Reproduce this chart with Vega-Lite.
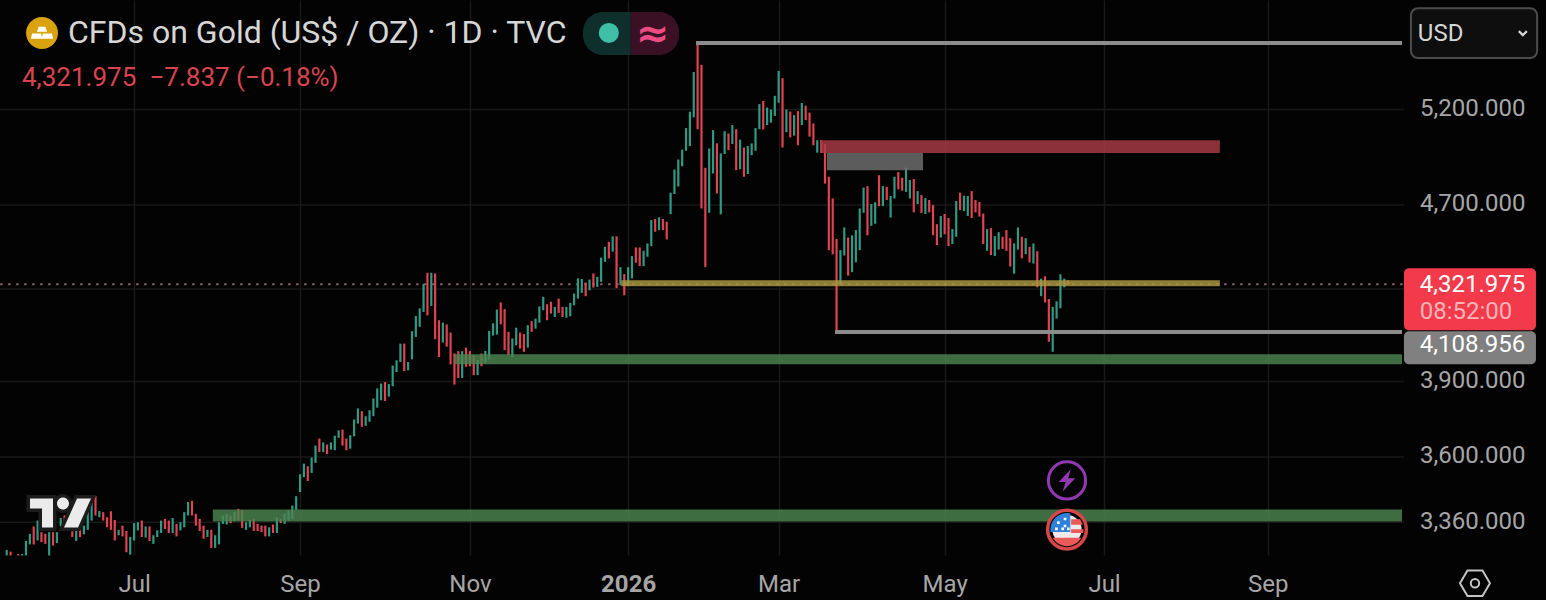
{
  "$schema": "https://vega.github.io/schema/vega-lite/v6.json",
  "width": 1546,
  "height": 555,
  "autosize": "none",
  "padding": {"left": 0, "top": 0, "right": 0, "bottom": 45},
  "background": "#030303",
  "title": {"text": "CFDs on Gold (US$ / OZ) · 1D · TVC", "anchor": "start", "frame": "group", "dx": 68, "dy": 54, "fontSize": 32, "fontWeight": "normal", "font": "Roboto", "color": "#d6d6d6"},
  "config": {"view": {"stroke": null}, "font": "Roboto", "text": {"font": "Roboto"}},
  "datasets": {
    "candles": [
      {"i":0,"open":3244,"close":3263},{"i":1,"open":3257,"close":3244},{"i":3,"open":3249,"close":3244},{"i":4,"open":3244,"close":3249},{"i":5,"open":3244,"close":3294},{"i":6,"open":3282,"close":3319},{"i":7,"open":3345,"close":3282},{"i":8,"open":3296,"close":3366},{"i":9,"open":3325,"close":3290},{"i":10,"open":3319,"close":3284},
      {"i":11,"open":3244,"close":3325},{"i":12,"open":3325,"close":3278},{"i":13,"open":3287,"close":3325},{"i":14,"open":3345,"close":3375},{"i":15,"open":3385,"close":3350},{"i":16,"open":3350,"close":3380},{"i":17,"open":3328,"close":3308},{"i":18,"open":3294,"close":3331},{"i":19,"open":3342,"close":3308},{"i":20,"open":3317,"close":3348},
      {"i":21,"open":3333,"close":3396},{"i":22,"open":3366,"close":3433},{"i":23,"open":3454,"close":3384},{"i":24,"open":3378,"close":3400},{"i":25,"open":3396,"close":3366},{"i":26,"open":3378,"close":3342},{"i":27,"open":3399,"close":3333},{"i":28,"open":3368,"close":3296},{"i":29,"open":3314,"close":3333},{"i":30,"open":3348,"close":3310},
      {"i":31,"open":3329,"close":3255},{"i":32,"open":3247,"close":3308},{"i":33,"open":3296,"close":3357},{"i":34,"open":3331,"close":3360},{"i":35,"open":3366,"close":3308},{"i":36,"open":3306,"close":3345},{"i":37,"open":3345,"close":3294},{"i":38,"open":3284,"close":3314},{"i":39,"open":3308,"close":3331},{"i":40,"open":3322,"close":3366},
      {"i":41,"open":3372,"close":3336},{"i":42,"open":3366,"close":3322},{"i":43,"open":3322,"close":3375},{"i":44,"open":3354,"close":3310},{"i":45,"open":3331,"close":3360},{"i":46,"open":3342,"close":3396},{"i":47,"open":3384,"close":3433},{"i":48,"open":3437,"close":3384},{"i":49,"open":3390,"close":3348},{"i":50,"open":3372,"close":3329},
      {"i":51,"open":3348,"close":3302},{"i":52,"open":3308,"close":3333},{"i":53,"open":3333,"close":3270},{"i":54,"open":3270,"close":3314},{"i":55,"open":3282,"close":3360},{"i":56,"open":3354,"close":3384},{"i":57,"open":3352,"close":3390},{"i":58,"open":3384,"close":3357},{"i":59,"open":3364,"close":3396},{"i":60,"open":3408,"close":3366},
      {"i":61,"open":3404,"close":3340},{"i":62,"open":3333,"close":3360},{"i":63,"open":3342,"close":3368},{"i":64,"open":3372,"close":3329},{"i":65,"open":3354,"close":3329},{"i":66,"open":3348,"close":3325},{"i":67,"open":3348,"close":3310},{"i":68,"open":3310,"close":3342},{"i":69,"open":3352,"close":3322},{"i":70,"open":3322,"close":3378},
      {"i":71,"open":3372,"close":3357},{"i":72,"open":3354,"close":3390},{"i":73,"open":3366,"close":3402},{"i":74,"open":3372,"close":3420},{"i":75,"open":3404,"close":3454},{"i":76,"open":3469,"close":3535},{"i":77,"open":3524,"close":3575},{"i":78,"open":3565,"close":3510},{"i":79,"open":3540,"close":3598},{"i":80,"open":3578,"close":3644},
      {"i":81,"open":3671,"close":3619},{"i":82,"open":3619,"close":3656},{"i":83,"open":3648,"close":3611},{"i":84,"open":3628,"close":3656},{"i":85,"open":3626,"close":3682},{"i":86,"open":3674,"close":3703},{"i":87,"open":3706,"close":3644},{"i":88,"open":3671,"close":3626},{"i":89,"open":3632,"close":3684},{"i":90,"open":3680,"close":3746},
      {"i":91,"open":3730,"close":3790},{"i":92,"open":3779,"close":3717},{"i":93,"open":3721,"close":3759},{"i":94,"open":3737,"close":3783},{"i":95,"open":3759,"close":3830},{"i":96,"open":3793,"close":3871},{"i":97,"open":3823,"close":3891},{"i":98,"open":3897,"close":3820},{"i":99,"open":3838,"close":3889},{"i":100,"open":3880,"close":3966},
      {"i":101,"open":3939,"close":3988},{"i":102,"open":3981,"close":4059},{"i":103,"open":4059,"close":3943},{"i":104,"open":3946,"close":3981},{"i":105,"open":3992,"close":4113},{"i":106,"open":4088,"close":4179},{"i":107,"open":4132,"close":4213},{"i":108,"open":4197,"close":4325},{"i":109,"open":4375,"close":4182},{"i":110,"open":4224,"close":4375},
      {"i":111,"open":4372,"close":4078},{"i":112,"open":4161,"close":4002},{"i":113,"open":4064,"close":4150},{"i":114,"open":4142,"close":4046},{"i":115,"open":4107,"close":3971},{"i":116,"open":4017,"close":3887},{"i":117,"open":4027,"close":3914},{"i":118,"open":3914,"close":4027},{"i":119,"open":4042,"close":3961},{"i":120,"open":4027,"close":3963},
      {"i":121,"open":4010,"close":3926},{"i":122,"open":3926,"close":3988},{"i":123,"open":4017,"close":3963},{"i":124,"open":3974,"close":4028},{"i":125,"open":3992,"close":4114},{"i":126,"open":4094,"close":4147},{"i":127,"open":4098,"close":4208},{"i":128,"open":4240,"close":4143},{"i":129,"open":4210,"close":4031},{"i":130,"open":4110,"close":4010},
      {"i":131,"open":4002,"close":4081},{"i":132,"open":4052,"close":4128},{"i":133,"open":4107,"close":4038},{"i":134,"open":4100,"close":4024},{"i":135,"open":4042,"close":4139},{"i":136,"open":4157,"close":4110},{"i":137,"open":4124,"close":4168},{"i":138,"open":4150,"close":4222},{"i":139,"open":4205,"close":4265},{"i":140,"open":4232,"close":4161},
      {"i":141,"open":4243,"close":4190},{"i":142,"open":4175,"close":4220},{"i":143,"open":4257,"close":4193},{"i":144,"open":4220,"close":4175},{"i":145,"open":4172,"close":4220},{"i":146,"open":4178,"close":4238},{"i":147,"open":4227,"close":4280},{"i":148,"open":4257,"close":4349},{"i":149,"open":4283,"close":4346},{"i":150,"open":4330,"close":4268},
      {"i":151,"open":4295,"close":4344},{"i":152,"open":4372,"close":4307},{"i":153,"open":4310,"close":4356},{"i":154,"open":4333,"close":4446},{"i":155,"open":4426,"close":4497},{"i":156,"open":4521,"close":4442},{"i":157,"open":4474,"close":4547},{"i":158,"open":4547,"close":4304},{"i":159,"open":4318,"close":4401},{"i":160,"open":4369,"close":4272},
      {"i":161,"open":4314,"close":4401},{"i":162,"open":4349,"close":4453},{"i":163,"open":4494,"close":4422},{"i":164,"open":4494,"close":4406},{"i":165,"open":4406,"close":4478},{"i":166,"open":4450,"close":4513},{"i":167,"open":4500,"close":4626},{"i":168,"open":4631,"close":4569},{"i":169,"open":4577,"close":4639},{"i":170,"open":4631,"close":4577},
      {"i":171,"open":4618,"close":4532},{"i":172,"open":4655,"close":4762},{"i":173,"open":4755,"close":4880},{"i":174,"open":4793,"close":4932},{"i":175,"open":4897,"close":4984},{"i":176,"open":4978,"close":5099},{"i":177,"open":5003,"close":5188},{"i":178,"open":5157,"close":5411},{"i":179,"open":5582,"close":5093},{"i":180,"open":5452,"close":4683},
      {"i":181,"open":4889,"close":4401},{"i":182,"open":4662,"close":4990},{"i":183,"open":4860,"close":5088},{"i":184,"open":5017,"close":4758},{"i":185,"open":4654,"close":4964},{"i":186,"open":4961,"close":5082},{"i":187,"open":5070,"close":4981},{"i":188,"open":5014,"close":5115},{"i":189,"open":5093,"close":4877},{"i":190,"open":4882,"close":5037},
      {"i":191,"open":4995,"close":4843},{"i":192,"open":4857,"close":5003},{"i":193,"open":4955,"close":5017},{"i":194,"open":4978,"close":5099},{"i":195,"open":5093,"close":5230},{"i":196,"open":5247,"close":5091},{"i":197,"open":5115,"close":5211},{"i":198,"open":5128,"close":5200},{"i":199,"open":5165,"close":5276},{"i":200,"open":5238,"close":5417},
      {"i":201,"open":5375,"close":4995},{"i":202,"open":5077,"close":5200},{"i":203,"open":5189,"close":5049},{"i":204,"open":5058,"close":5169},{"i":205,"open":5191,"close":5007},{"i":206,"open":5115,"close":5236},{"i":207,"open":5221,"close":5142},{"i":208,"open":5183,"close":5053},{"i":209,"open":5124,"close":5007},{"i":210,"open":4968,"close":5034},
      {"i":211,"open":5034,"close":4968},{"i":212,"open":5013,"close":4808},{"i":213,"open":4843,"close":4481},{"i":214,"open":4733,"close":4461},{"i":215,"open":4534,"close":4105},{"i":216,"open":4324,"close":4481},{"i":217,"open":4456,"close":4590},{"i":218,"open":4541,"close":4362},{"i":219,"open":4378,"close":4552},{"i":220,"open":4424,"close":4577},
      {"i":221,"open":4481,"close":4683},{"i":222,"open":4662,"close":4788},{"i":223,"open":4795,"close":4552},{"i":224,"open":4598,"close":4705},{"i":225,"open":4608,"close":4714},{"i":226,"open":4851,"close":4695},{"i":227,"open":4695,"close":4795},{"i":228,"open":4792,"close":4725},{"i":229,"open":4638,"close":4745},{"i":230,"open":4733,"close":4843},
      {"i":231,"open":4867,"close":4779},{"i":232,"open":4838,"close":4772},{"i":233,"open":4766,"close":4890},{"i":234,"open":4733,"close":4826},{"i":235,"open":4831,"close":4664},{"i":236,"open":4705,"close":4770},{"i":237,"open":4750,"close":4660},{"i":238,"open":4656,"close":4735},{"i":239,"open":4725,"close":4664},{"i":240,"open":4700,"close":4552},
      {"i":241,"open":4606,"close":4505},{"i":242,"open":4541,"close":4646},{"i":243,"open":4656,"close":4557},{"i":244,"open":4636,"close":4500},{"i":245,"open":4510,"close":4582},{"i":246,"open":4545,"close":4720},{"i":247,"open":4762,"close":4675},{"i":248,"open":4670,"close":4747},{"i":249,"open":4646,"close":4745},{"i":250,"open":4770,"close":4636},
      {"i":251,"open":4725,"close":4664},{"i":252,"open":4715,"close":4643},{"i":253,"open":4658,"close":4510},{"i":254,"open":4478,"close":4582},{"i":255,"open":4587,"close":4458},{"i":256,"open":4453,"close":4548},{"i":257,"open":4484,"close":4567},{"i":258,"open":4545,"close":4487},{"i":259,"open":4577,"close":4478},{"i":260,"open":4538,"close":4404},
      {"i":261,"open":4371,"close":4513},{"i":262,"open":4484,"close":4590},{"i":263,"open":4545,"close":4442},{"i":264,"open":4462,"close":4538},{"i":265,"open":4497,"close":4423},{"i":266,"open":4418,"close":4513},{"i":267,"open":4476,"close":4308},{"i":268,"open":4268,"close":4348},{"i":269,"open":4359,"close":4240},{"i":270,"open":4255,"close":4067},
      {"i":271,"open":4024,"close":4220},{"i":272,"open":4168,"close":4245},{"i":273,"open":4214,"close":4368},{"i":274,"open":4308,"close":4348},{"i":275,"open":4340,"close":4321.975}
    ],
    "zones": [
      {"zone":"demand","i":53.4,"i2":361.5,"p":3363,"p2":3406},
      {"zone":"demand","i":116.1,"i2":361.5,"p":3971,"p2":4014},
      {"zone":"pivot","i":159.2,"i2":314.3,"p":4313,"p2":4341},
      {"zone":"supply","i":210.7,"i2":314.3,"p":4966,"p2":5034},
      {"zone":"imbalance","i":212.5,"i2":237.4,"p":4877,"p2":4966}
    ],
    "levels": [
      {"i":178.6,"i2":361.5,"p":5579},
      {"i":214.6,"i2":361.5,"p":4108.956}
    ],
    "gridlines": [
      {"i":-1.736,"i2":362,"p":5200},
      {"i":-1.736,"i2":362,"p":4700},
      {"i":-1.736,"i2":362,"p":4300},
      {"i":-1.736,"i2":362,"p":3900},
      {"i":-1.736,"i2":362,"p":3600},
      {"i":-1.736,"i2":362,"p":3360}
    ]
  },
  "encoding": {
    "x": {
      "field": "i",
      "type": "quantitative",
      "scale": {"domain": [-1.736, 398.8], "nice": false, "zero": false},
      "axis": {
        "title": null,
        "domain": false,
        "ticks": false,
        "grid": true,
        "gridColor": "#181818",
        "gridWidth": 1.5,
        "values": [33, 76, 120, 161, 200, 243, 284.3, 326.7],
        "labelExpr": "{'33':'Jul','76':'Sep','120':'Nov','161':'2026','200':'Mar','243':'May','284.3':'Jul','326.7':'Sep'}[datum.value]",
        "labelFontSize": 24,
        "labelColor": "#a6a6a6",
        "labelFontWeight": {"condition": {"test": "datum.value==161", "value": "bold"}, "value": "normal"},
        "labelPadding": 17,
        "labelFlush": false,
        "labelOverlap": false
      }
    },
    "y": {
      "field": "p",
      "type": "quantitative",
      "scale": {"type": "log", "domain": [3245.5, 5839], "nice": false},
      "axis": {
        "title": null,
        "orient": "right",
        "domain": false,
        "ticks": false,
        "grid": false,
        "values": [5200, 4700, 4300, 3900, 3600, 3360],
        "labelExpr": "datum.value==4300?'':format(datum.value,',.3f')",
        "labelFontSize": 24,
        "labelColor": "#a6a6a6",
        "labelAlign": "right",
        "labelPadding": -21,
        "labelOffset": -1.2,
        "labelOverlap": false
      }
    }
  },
  "layer": [
    {
      "data": {"name": "gridlines"},
      "mark": {"type": "rule", "color": "#181818", "strokeWidth": 1.5},
      "encoding": {"x2": {"field": "i2"}}
    },
    {
      "data": {"values": [{"i": -1.7, "i2": 362, "p": 4321.975}]},
      "mark": {"type": "rule", "color": "#8a5a5f", "strokeWidth": 2, "strokeDash": [2.5, 5.5]},
      "encoding": {"x2": {"field": "i2"}}
    },
    {
      "data": {"name": "candles"},
      "mark": {"type": "rule", "strokeWidth": 2.2},
      "encoding": {
        "y": {"field": "open", "type": "quantitative"},
        "y2": {"field": "close"},
        "color": {"condition": {"test": "datum.close<datum.open", "value": "#e0424f"}, "value": "#2f9a84"}
      }
    },
    {
      "data": {"name": "zones"},
      "mark": {"type": "rect", "opacity": 0.82},
      "encoding": {
        "x2": {"field": "i2"},
        "y2": {"field": "p2"},
        "color": {
          "field": "zone",
          "type": "nominal",
          "scale": {"domain": ["demand", "pivot", "supply", "imbalance"], "range": ["#4c8550", "#ad9a42", "#ab3b46", "#707070"]},
          "legend": null
        }
      }
    },
    {
      "data": {"name": "levels"},
      "mark": {"type": "rule", "color": "#8c8c8c", "strokeWidth": 4},
      "encoding": {"x2": {"field": "i2"}}
    },
    {
      "data": {"values": [{"i": 362, "i2": 396.2, "p": 4117, "p2": 4396}]},
      "mark": {"type": "rect", "color": "#f23a4b", "cornerRadius": 5},
      "encoding": {"x2": {"field": "i2"}, "y2": {"field": "p2"}}
    },
    {
      "data": {"values": [{"i": 362, "i2": 396.2, "p": 3971, "p2": 4113}]},
      "mark": {"type": "rect", "color": "#808080", "cornerRadius": 5},
      "encoding": {"x2": {"field": "i2"}, "y2": {"field": "p2"}}
    },
    {
      "data": {"values": [{"i": 363.8, "i2": 396.5, "p": 5491, "p2": 5789}]},
      "mark": {"type": "rect", "fill": "#0e0e0e", "stroke": "#4c4c4c", "strokeWidth": 2, "cornerRadius": 7},
      "encoding": {"x2": {"field": "i2"}, "y2": {"field": "p2"}}
    },
    {
      "data": {"values": [{"i": 149.3, "i2": 161.7, "p": 5509, "p2": 5765}]},
      "mark": {"type": "rect", "color": "#0e2f2b", "cornerRadiusTopLeft": 20, "cornerRadiusBottomLeft": 20},
      "encoding": {"x2": {"field": "i2"}, "y2": {"field": "p2"}}
    },
    {
      "data": {"values": [{"i": 161.7, "i2": 174.2, "p": 5509, "p2": 5765}]},
      "mark": {"type": "rect", "color": "#3a1024", "cornerRadiusTopRight": 20, "cornerRadiusBottomRight": 20},
      "encoding": {"x2": {"field": "i2"}, "y2": {"field": "p2"}}
    },
    {
      "data": {"values": [{"i": 156, "p": 5639}]},
      "mark": {"type": "point", "shape": "circle", "filled": true, "opacity": 1, "color": "#3fbfa6", "size": 400}
    },
    {
      "data": {"values": [{"i": 9.15, "p": 5639}]},
      "mark": {"type": "point", "shape": "circle", "filled": true, "opacity": 1, "color": "#d9a310", "size": 1018}
    },
    {
      "data": {"values": [{"i": 9.15, "p": 5639}]},
      "mark": {"type": "point", "filled": true, "opacity": 1, "color": "#ffffff", "size": 900, "shape": "M-.22 -.42L.22 -.42L.34 -.08L-.34 -.08ZM-.66 .04L-.06 .04L.02 .38L-.74 .38ZM.06 .04L.66 .04L.74 .38L-.02 .38Z"}
    },
    {
      "data": {"values": [{"i": 13.94, "p": 3393}]},
      "mark": {"type": "point", "filled": true, "opacity": 1, "fill": "#1c1c1c", "stroke": "#1c1c1c", "strokeWidth": 7, "size": 4096, "shape": "M-.953 -.453L-.234 -.453L-.234 .453L-.578 .453L-.578 -.14L-.953 -.14ZM-.11 -.297a.1875 .1875 0 1 0 .375 0a.1875 .1875 0 1 0 -.375 0ZM.516 -.453L.953 -.453L.547 .453L.109 .453Z"}
    },
    {
      "data": {"values": [{"i": 13.94, "p": 3393}]},
      "mark": {"type": "point", "filled": true, "opacity": 1, "color": "#ebebeb", "size": 4096, "shape": "M-.953 -.453L-.234 -.453L-.234 .453L-.578 .453L-.578 -.14L-.953 -.14ZM-.11 -.297a.1875 .1875 0 1 0 .375 0a.1875 .1875 0 1 0 -.375 0ZM.516 -.453L.953 -.453L.547 .453L.109 .453Z"}
    },
    {
      "data": {"values": [{"i": 274.7, "p": 3512}]},
      "mark": {"type": "point", "shape": "circle", "filled": true, "opacity": 1, "fill": "#050505", "stroke": "#9238b2", "strokeWidth": 3, "size": 1385}
    },
    {
      "data": {"values": [{"i": 274.7, "p": 3512}]},
      "mark": {"type": "point", "filled": true, "opacity": 1, "color": "#9238b2", "size": 900, "shape": "M.25 -.75L-.55 .1L-.08 .1L-.3 .75L.55 -.15L.08 -.15Z"}
    },
    {
      "data": {"values": [{"i": 274.7, "p": 3334}]},
      "mark": {"type": "point", "shape": "circle", "filled": true, "opacity": 1, "fill": "#050505", "stroke": "#d64747", "strokeWidth": 3.5, "size": 1500}
    },
    {
      "data": {"values": [{"i": 274.7, "p": 3334}]},
      "mark": {"type": "point", "shape": "circle", "filled": true, "opacity": 1, "color": "#efe9e9", "size": 855}
    },
    {
      "data": {"values": [{"i": 274.7, "p": 3334}]},
      "mark": {"type": "point", "filled": true, "opacity": 1, "color": "#ea5a5a", "size": 1089, "shape": "M-.87 .5A1 1 0 0 0 .87 .5ZM.25 -.62L.8 -.62L.96 -.3L.25 -.3ZM.25 -.02L1 -.02L.98 .2L.25 .2Z"}
    },
    {
      "data": {"values": [{"i": 274.7, "p": 3334}]},
      "mark": {"type": "point", "filled": true, "opacity": 1, "color": "#2f80d8", "size": 1089, "shape": "M-.99 .15A1 1 0 0 1 .2 -.98L.2 .15Z"}
    },
    {
      "data": {"values": [{"i": 274.7, "p": 3334}]},
      "mark": {"type": "point", "filled": true, "opacity": 1, "color": "#ffffff", "size": 1089, "shape": "M-.6 -.5h.16v.16h-.16ZM-.2 -.72h.16v.16h-.16ZM-.2 -.3h.16v.16h-.16ZM-.72 -.12h.16v.16h-.16ZM-.34 -.12h.16v.16h-.16ZM0 -.12h.16v.16h-.16Z"}
    },
    {
      "data": {"values": [{"i": 392.8, "p": 5639}]},
      "mark": {"type": "point", "filled": false, "opacity": 1, "color": "#d6d6d6", "strokeWidth": 2.2, "size": 64, "shape": "M-1 -.45L0 .55L1 -.45"}
    },
    {
      "data": {"values": [{"i": 380.4, "p": 3150}]},
      "mark": {"type": "point", "filled": false, "opacity": 1, "color": "#c4c4c4", "strokeWidth": 2, "size": 900, "shape": "M-1 0L-.5 -.85L.5 -.85L1 0L.5 .85L-.5 .85ZM.28 0A.28 .28 0 1 1 -.28 0A.28 .28 0 1 1 .28 0Z"}
    },
    {
      "data": {"values": [{"i": 167.4, "p": 5625, "label": "≈"}]},
      "mark": {"type": "text", "fontSize": 40, "fontWeight": "bold", "font": "DejaVu Sans", "color": "#ec4b84", "align": "center", "baseline": "middle"},
      "encoding": {"text": {"field": "label"}}
    },
    {
      "data": {"values": [{"i": 3.96, "p": 5376, "label": "4,321.975\u2002−7.837 (−0.18%)"}]},
      "mark": {"type": "text", "fontSize": 26, "color": "#d9434e", "align": "left", "baseline": "middle"},
      "encoding": {"text": {"field": "label"}}
    },
    {
      "data": {"values": [{"i": 365.6, "p": 5630, "label": "USD"}]},
      "mark": {"type": "text", "fontSize": 24, "color": "#d6d6d6", "align": "left", "baseline": "middle"},
      "encoding": {"text": {"field": "label"}}
    },
    {
      "data": {"values": [{"i": 366.1, "p": 4319, "label": "4,321.975"}, {"i": 366.1, "p": 4052, "label": "4,108.956"}]},
      "mark": {"type": "text", "fontSize": 24, "color": "#ffffff", "align": "left", "baseline": "middle"},
      "encoding": {"text": {"field": "label"}}
    },
    {
      "data": {"values": [{"i": 366.1, "p": 4199, "label": "08:52:00"}]},
      "mark": {"type": "text", "fontSize": 24, "color": "#ffb3b9", "align": "left", "baseline": "middle"},
      "encoding": {"text": {"field": "label"}}
    }
  ]
}
